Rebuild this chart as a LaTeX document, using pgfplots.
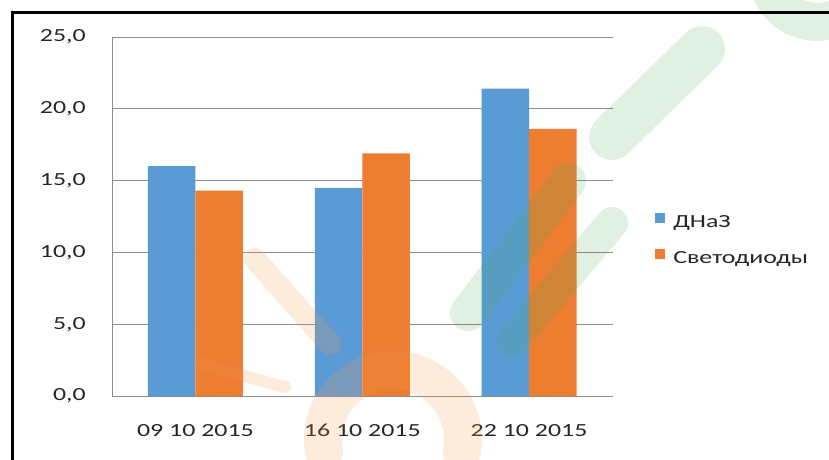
\documentclass[border=0pt]{standalone}
\usepackage{fontspec}
\setmainfont{Carlito}[FakeStretch=1.4]
\usepackage{pgfplots}
\pgfplotsset{compat=1.18}
\definecolor{sblue}{HTML}{5B9BD5}
\definecolor{sorange}{HTML}{ED7D31}
\definecolor{gridg}{HTML}{8C8C8C}
\definecolor{wmgreen}{HTML}{3DAA55}
\definecolor{wmorange}{HTML}{F39A4A}
\begin{document}
\begin{tikzpicture}[x=1pt,y=1pt]
\path[use as bounding box] (0,0) rectangle (829,459);
\begin{axis}[
  at={(112pt,63pt)}, anchor=south west,
  scale only axis, width=500.5pt, height=359pt,
  xmin=-0.5, xmax=2.5, ymin=0, ymax=25,
  ybar=0pt, bar width=47.5pt,
  xtick={0,1,2},
  xticklabels={09 10 2015, 16 10 2015, 22 10 2015},
  ytick={0,5,10,15,20,25},
  axis x line*=bottom, axis y line*=left,
  axis line style={gridg, line width=0.8pt},
  ymajorgrids, grid style={gridg, line width=0.8pt},
  major tick length=0pt,
  tick style={draw=none},
  every axis plot/.append style={draw=none},
  /pgf/number format/.cd, fixed, fixed zerofill, precision=1, use comma, assume math mode=true,
  /pgfplots/.cd,
  ticklabel style={font=\fontsize{18.5}{20}\selectfont, text=black!85},
  yticklabel style={inner sep=0pt, xshift=-26pt},
  xticklabel style={inner sep=0pt, yshift=-28pt},
  legend style={at={(1.085,0.437)}, anchor=west, draw=none, fill=none,
    font=\fontsize{18.5}{20}\selectfont, text=black!85,
    row sep=20pt, inner sep=0pt,
    nodes={inner sep=0pt},
    /tikz/every odd column/.append style={column sep=8pt}},
  legend cell align=left,
  legend image code/.code={\fill[#1] (0pt,-1pt) rectangle (10pt,9pt);},
]
\addplot[fill=sblue] coordinates {(0,16.0) (1,14.5) (2,21.4)};
\addplot[fill=sorange] coordinates {(0,14.3) (1,16.9) (2,18.6)};
\legend{ДНаЗ, Светодиоды}
\end{axis}
% faint watermark
\begin{scope}[opacity=0.16, line cap=round]
\draw[wmgreen, line width=46pt] (612,322) -- (702,410);
\draw[wmgreen, line width=38pt] (770,470) arc[start angle=200, end angle=300, radius=50];
\draw[wmgreen, line width=36pt] (468,146) -- (568,278);
\draw[wmgreen, line width=32pt] (512,118) -- (612,236);
\end{scope}
\begin{scope}[opacity=0.2, line cap=round]
\draw[wmorange, line width=22pt] (255,200) -- (330,115);
\draw[wmorange, line width=12pt] (200,95) -- (285,72);
\draw[wmorange, line width=38pt] (324,7) arc[start angle=190, end angle=-10, radius=70];
\end{scope}
\draw[line width=3pt] (12,-2) -- (12,446) -- (831,446);
\end{tikzpicture}
\end{document}
